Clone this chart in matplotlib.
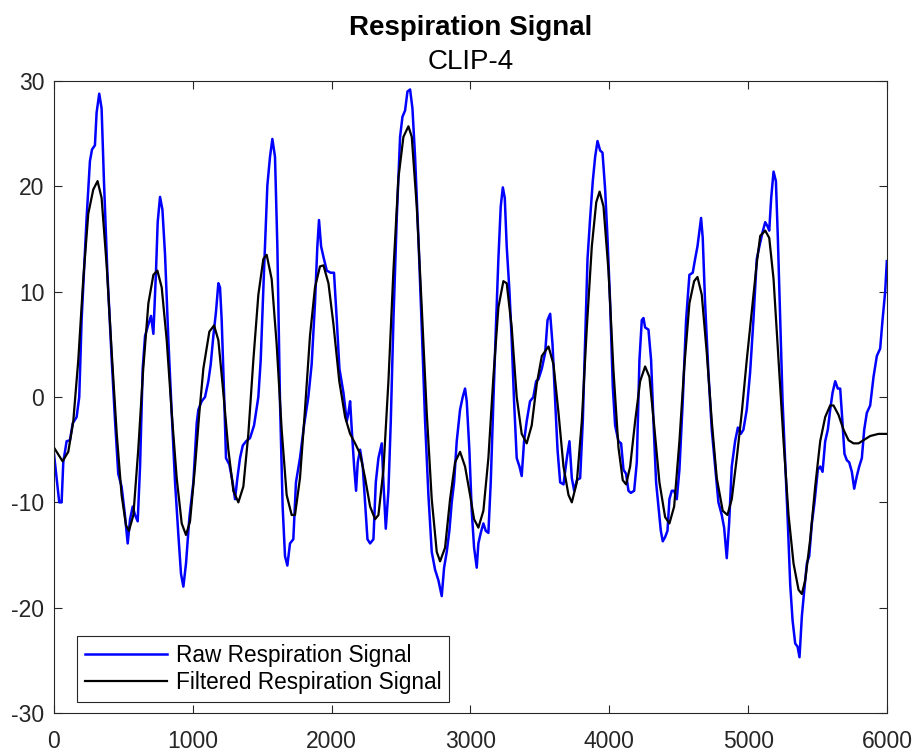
#!/usr/bin/env python3
# -*- coding: utf-8 -*-

import numpy as np
import matplotlib
matplotlib.use("Agg")
import matplotlib.pyplot as plt

# raw signal (sample index, value)
raw_x = [0, 38, 55, 67, 91, 115, 135, 163, 182, 199, 235, 259, 274, 295, 307, 326, 343, 360, 384, 416,
         440, 463, 487, 511, 531, 548, 567, 584, 603, 620, 639, 656, 680, 699, 716, 735, 747, 764, 781, 800,
         824, 848, 872, 896, 915, 932, 951, 975, 1004, 1028, 1040, 1064, 1088, 1112, 1129, 1148, 1167, 1184, 1196, 1208,
         1227, 1239, 1263, 1287, 1304, 1321, 1340, 1360, 1384, 1412, 1441, 1472, 1489, 1513, 1537, 1556, 1573, 1592, 1609, 1628,
         1647, 1664, 1681, 1700, 1724, 1743, 1772, 1801, 1832, 1856, 1880, 1897, 1909, 1924, 1941, 1965, 1993, 2017, 2037, 2056,
         2085, 2109, 2121, 2133, 2145, 2162, 2176, 2188, 2205, 2224, 2241, 2258, 2277, 2301, 2318, 2337, 2361, 2373, 2390, 2409,
         2426, 2445, 2469, 2493, 2510, 2529, 2546, 2565, 2582, 2601, 2625, 2649, 2673, 2697, 2721, 2745, 2769, 2793, 2810, 2829,
         2848, 2865, 2882, 2901, 2925, 2944, 2961, 2973, 2992, 3009, 3026, 3045, 3057, 3074, 3093, 3110, 3129, 3146, 3165, 3185,
         3201, 3218, 3233, 3247, 3261, 3281, 3297, 3314, 3333, 3353, 3369, 3386, 3405, 3429, 3453, 3473, 3490, 3514, 3538, 3555,
         3574, 3591, 3610, 3627, 3646, 3670, 3694, 3713, 3730, 3747, 3766, 3790, 3809, 3826, 3843, 3862, 3881, 3898, 3915, 3934,
         3951, 3970, 3987, 4006, 4025, 4042, 4066, 4085, 4102, 4121, 4138, 4155, 4179, 4198, 4217, 4234, 4246, 4258, 4282, 4301,
         4318, 4337, 4354, 4371, 4385, 4402, 4419, 4433, 4450, 4467, 4486, 4505, 4529, 4553, 4577, 4601, 4618, 4635, 4649, 4661,
         4673, 4690, 4714, 4738, 4762, 4786, 4810, 4827, 4846, 4863, 4882, 4906, 4926, 4947, 4966, 4990, 5014, 5038, 5062, 5081,
         5103, 5123, 5140, 5152, 5166, 5183, 5200, 5214, 5231, 5248, 5267, 5286, 5303, 5320, 5339, 5356, 5370, 5387, 5406, 5423,
         5440, 5459, 5478, 5502, 5519, 5536, 5555, 5574, 5591, 5608, 5627, 5646, 5663, 5675, 5694, 5711, 5728, 5747, 5764, 5783,
         5800, 5819, 5836, 5855, 5879, 5903, 5927, 5951, 5968, 5987, 5999]
raw_y = [-5.4, -10.0, -10.0, -6.2, -4.2, -4.1, -2.5, -1.9, 0.0, 7.3, 17.0, 22.4, 23.5, 23.9, 27.0, 28.8, 27.4, 20.5, 12.0, 3.5,
         -2.3, -7.3, -8.5, -11.2, -13.9, -11.6, -10.4, -11.2, -11.8, -6.6, 2.7, 5.8, 6.9, 7.7, 6.0, 12.0, 16.6, 19.0, 17.8, 13.5,
         5.4, -1.5, -8.1, -13.1, -16.8, -18.0, -15.8, -11.5, -8.1, -2.5, -1.2, -0.4, 0.0, 1.5, 3.1, 5.8, 8.1, 10.8, 10.4, 7.3,
         -0.4, -5.8, -6.4, -8.1, -9.7, -7.7, -5.8, -4.6, -4.2, -3.9, -2.7, 0.0, 3.5, 12.0, 20.1, 22.8, 24.5, 22.8, 14.3, -0.4,
         -10.4, -15.1, -16.0, -13.9, -13.5, -8.1, -5.8, -2.7, 0.0, 3.1, 8.9, 14.3, 16.8, 14.3, 13.3, 12.0, 11.8, 11.8, 7.3, 2.7,
         0.4, -2.3, -1.5, -0.4, -3.1, -6.6, -8.9, -6.2, -5.0, -6.6, -10.0, -13.5, -13.9, -13.5, -8.1, -5.8, -4.4, -8.1, -12.5, -8.9,
         -2.3, 7.3, 17.0, 24.7, 26.6, 27.2, 29.0, 29.2, 27.4, 22.8, 15.1, 6.6, -2.3, -9.3, -14.7, -16.4, -17.4, -18.9, -16.2, -14.7,
         -12.7, -10.0, -8.1, -4.2, -1.2, 0.0, 0.8, -0.4, -5.0, -10.8, -14.3, -16.2, -13.9, -12.9, -12.0, -12.7, -12.9, -8.1, -0.4, 7.3,
         13.1, 18.1, 19.9, 18.9, 14.3, 10.0, 5.4, -0.4, -5.8, -6.6, -7.5, -4.2, -2.3, -0.4, 0.0, 1.5, 1.7, 2.7, 4.2, 7.3,
         7.9, 5.0, -0.4, -5.0, -8.1, -8.3, -5.8, -4.2, -7.7, -8.9, -7.9, -7.7, -2.3, 5.4, 13.1, 17.0, 20.5, 22.8, 24.3, 23.4,
         23.2, 19.7, 15.1, 8.9, 1.0, -2.7, -4.2, -4.4, -6.9, -7.3, -8.9, -9.1, -8.9, -6.2, 3.5, 7.3, 7.5, 6.6, 6.4, 3.5,
         -2.3, -8.1, -10.4, -12.7, -13.7, -13.3, -12.7, -9.7, -8.9, -8.9, -9.7, -6.9, -0.4, 7.3, 11.6, 11.8, 13.1, 14.3, 15.8, 17.0,
         15.1, 8.9, 2.3, -3.1, -6.6, -10.0, -11.2, -12.4, -15.3, -12.0, -6.6, -4.2, -2.9, -3.5, -3.1, -1.2, 2.3, 7.3, 13.1, 14.3,
         15.6, 16.6, 16.2, 15.8, 18.9, 21.4, 20.5, 15.1, 7.3, -0.4, -6.2, -12.0, -17.8, -21.2, -23.4, -23.7, -24.7, -20.8, -18.1, -15.8,
         -15.1, -12.0, -10.0, -6.9, -6.6, -7.1, -4.2, -3.1, -1.2, 0.4, 1.5, 0.8, 0.8, -1.5, -5.4, -6.0, -6.2, -7.1, -8.7, -7.5,
         -6.6, -5.8, -3.1, -1.5, -0.8, 1.9, 3.9, 4.6, 7.3, 10.0, 12.9]

# filtered signal
filt_x = [0, 62, 103, 139, 175, 211, 247, 283, 314, 343, 380, 416, 452, 487, 519, 540, 572, 607, 643, 680,
          716, 745, 776, 812, 848, 884, 920, 951, 980, 1016, 1047, 1076, 1119, 1153, 1184, 1220, 1256, 1292, 1328, 1364,
          1400, 1436, 1472, 1508, 1532, 1568, 1604, 1640, 1676, 1712, 1736, 1772, 1808, 1844, 1880, 1916, 1941, 1977, 2013, 2055,
          2097, 2133, 2169, 2205, 2241, 2277, 2313, 2337, 2373, 2409, 2445, 2481, 2517, 2553, 2577, 2613, 2649, 2685, 2721, 2757,
          2781, 2817, 2853, 2889, 2925, 2961, 2997, 3026, 3057, 3093, 3129, 3165, 3201, 3237, 3261, 3297, 3333, 3369, 3405, 3441,
          3477, 3514, 3562, 3598, 3634, 3670, 3706, 3730, 3766, 3802, 3838, 3874, 3906, 3930, 3958, 3994, 4030, 4066, 4097, 4121,
          4150, 4186, 4222, 4258, 4289, 4323, 4361, 4402, 4433, 4467, 4505, 4539, 4577, 4611, 4635, 4666, 4702, 4738, 4774, 4817,
          4851, 4882, 4918, 4954, 4990, 5026, 5062, 5087, 5123, 5152, 5183, 5219, 5255, 5291, 5327, 5363, 5387, 5411, 5447, 5483,
          5519, 5555, 5591, 5615, 5651, 5687, 5723, 5759, 5795, 5831, 5879, 5939, 5999]
filt_y = [-4.8, -6.1, -5.2, -2.3, 3.5, 11.2, 17.4, 19.7, 20.5, 18.9, 12.4, 4.2, -3.5, -9.3, -12.2, -12.7, -11.2, -5.0, 2.7, 8.9,
          11.6, 12.0, 10.4, 5.4, -1.5, -7.7, -12.0, -13.1, -11.8, -6.6, -1.5, 2.7, 6.2, 6.8, 5.4, 0.4, -5.0, -8.9, -10.0, -8.5,
          -3.5, 3.5, 9.7, 13.1, 13.5, 11.2, 5.0, -3.1, -9.3, -11.2, -11.2, -7.7, -1.2, 5.8, 10.4, 12.4, 12.5, 10.8, 6.9, 1.5,
          -1.9, -3.5, -4.4, -5.4, -7.7, -10.4, -11.6, -11.2, -6.9, 1.5, 12.0, 20.8, 24.7, 25.7, 24.7, 18.1, 8.5, -1.5, -9.7, -14.7,
          -15.6, -14.3, -9.7, -6.2, -5.2, -6.6, -9.3, -11.6, -12.4, -10.8, -5.8, 1.9, 8.5, 11.0, 10.8, 6.6, 0.0, -3.5, -4.4, -2.7,
          1.2, 3.9, 4.8, 3.1, -1.5, -6.6, -9.3, -10.0, -8.1, -2.3, 6.6, 14.3, 18.5, 19.5, 18.1, 12.0, 2.5, -4.8, -7.9, -8.3,
          -6.6, -2.3, 1.5, 2.9, 1.9, -2.7, -8.1, -11.4, -12.0, -10.4, -4.2, 2.7, 8.9, 11.0, 11.4, 9.7, 4.2, -2.3, -7.7, -10.8,
          -11.2, -9.7, -5.8, -1.5, 3.5, 8.1, 12.7, 15.3, 15.8, 15.1, 11.2, 3.5, -4.2, -11.2, -15.8, -18.3, -18.7, -17.4, -13.5, -8.5,
          -4.2, -1.9, -0.8, -0.8, -1.7, -3.1, -4.1, -4.4, -4.4, -4.1, -3.7, -3.5, -3.5]

x_ticks = [0, 1000, 2000, 3000, 4000, 5000, 6000]
y_ticks = [-30, -20, -10, 0, 10, 20, 30]

AX_COLOR = "#262626"


def main():
    plt.rcParams["font.family"] = ["Liberation Sans", "DejaVu Sans"]
    plt.rcParams["axes.unicode_minus"] = False  # 하이픈 마이너스
    fig = plt.figure(figsize=(9.18, 7.53), dpi=100)
    ax = fig.add_axes([0.0588, 0.0531, 0.9074, 0.8393])

    ax.plot(raw_x, raw_y, color="#0000ff", linewidth=1.8, label="Raw Respiration Signal")
    ax.plot(filt_x, filt_y, color="black", linewidth=1.6, label="Filtered Respiration Signal")

    ax.set_xlim(0, 6000)
    ax.set_ylim(-30, 30)
    ax.set_xticks(x_ticks)
    ax.set_yticks(y_ticks)
    ax.tick_params(direction="in", length=6, width=0.8, colors=AX_COLOR,
                   labelsize=16.5, top=True, right=True)
    ax.tick_params(axis="x", pad=12)
    ax.tick_params(axis="y", pad=7)
    for s in ax.spines.values():
        s.set_color(AX_COLOR)
        s.set_linewidth(0.8)

    # 제목 두 줄 (굵게 + 보통)
    cx = 0.0588 + 0.9074 / 2
    fig.text(cx, 1 - 28 / 753, "Respiration Signal", ha="center", va="center",
             fontsize=20, fontweight="bold", color="black")
    fig.text(cx, 1 - 62 / 753, "CLIP-4", ha="center", va="center",
             fontsize=20, color="black")

    leg = ax.legend(loc="lower left", bbox_to_anchor=(0.028, 0.018), fontsize=16.3,
                    handlelength=3.6, fancybox=False, framealpha=1.0,
                    borderpad=0.35, labelspacing=0.18, handletextpad=0.4,
                    borderaxespad=0.0)
    leg.get_frame().set_edgecolor(AX_COLOR)
    leg.get_frame().set_linewidth(0.8)

    fig.savefig("out.png", dpi=100)
    plt.close(fig)


if __name__ == "__main__":
    main()
